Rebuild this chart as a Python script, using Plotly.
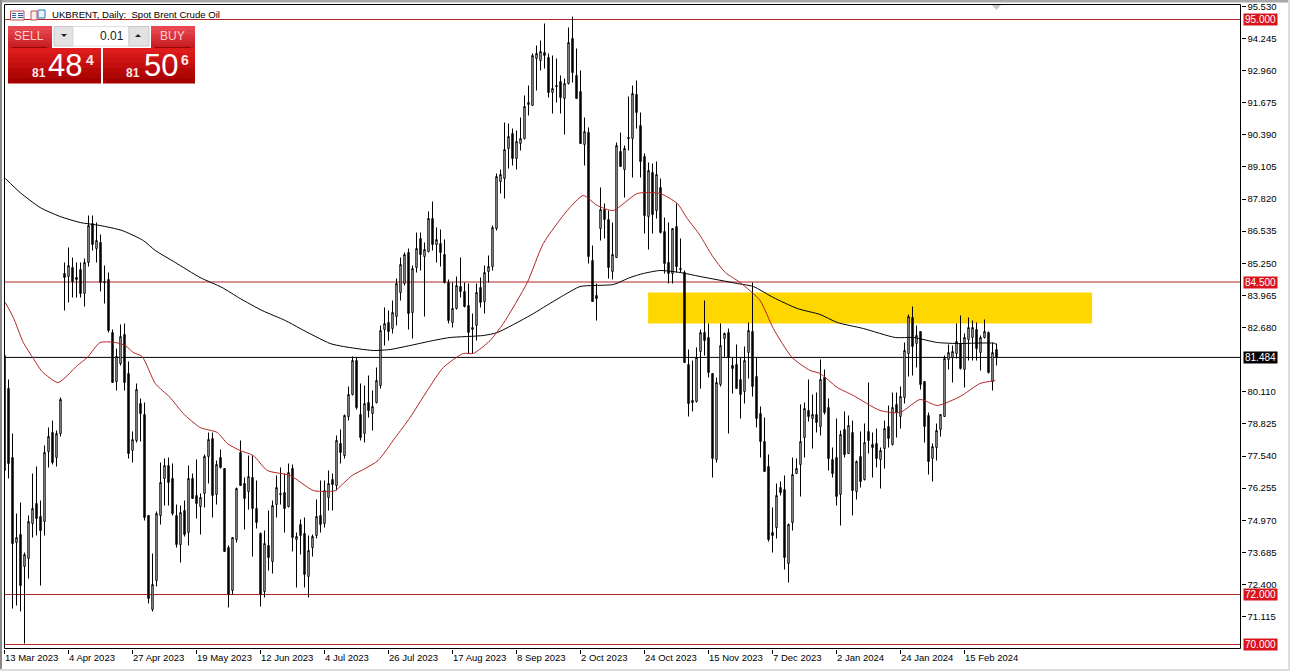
import plotly.graph_objects as go

opens = [81.56,80.24,77.48,74.08,74.40,73.12,73.44,74.84,75.64,75.12,74.92,77.72,78.48,77.48,78.44,84.84,84.72,85.08,84.68,85.00,
84.04,85.28,86.84,85.84,86.08,84.52,84.60,82.48,80.52,81.24,82.40,80.84,77.76,78.16,79.64,79.20,75.16,71.40,72.56,75.16,
76.64,77.16,76.64,75.16,74.00,75.36,74.48,76.64,75.96,75.52,76.04,77.52,78.24,76.00,77.48,77.04,73.88,72.16,74.20,77.68,
76.44,76.12,76.68,75.44,74.44,72.12,73.96,73.32,75.60,76.04,76.08,75.52,77.04,74.20,74.80,74.44,72.72,73.88,74.36,75.16,
74.84,75.88,76.60,76.36,78.04,77.56,79.12,80.00,81.36,79.20,78.44,79.68,79.24,79.68,80.36,82.60,82.88,82.64,83.12,84.08,
84.44,85.68,83.28,85.08,86.24,85.52,85.72,87.04,86.00,86.04,85.60,84.48,82.88,83.44,84.32,84.12,83.56,82.60,82.76,84.28,
83.72,84.92,85.12,86.64,88.52,88.64,89.84,90.44,89.44,90.04,90.24,91.60,91.56,93.44,93.36,93.68,93.48,92.08,92.36,92.52,
91.84,92.44,94.24,92.76,92.12,90.00,90.48,85.36,83.96,86.64,87.40,87.00,84.92,85.48,89.72,89.00,90.28,90.24,92.00,90.76,
89.52,87.12,88.88,87.36,88.28,86.52,85.28,84.84,86.72,85.04,84.88,81.20,79.76,79.72,81.72,82.48,82.28,80.84,77.40,80.40,
82.24,82.48,81.16,81.20,80.60,80.12,81.68,82.52,80.72,79.24,78.12,77.12,74.48,74.68,76.28,76.20,73.24,74.88,76.84,77.20,
78.28,79.36,79.04,79.20,78.72,80.68,79.48,77.40,77.48,76.00,78.60,77.64,78.48,76.12,77.52,76.60,78.52,78.00,78.04,77.40,
77.84,78.72,78.00,79.60,79.12,79.88,81.64,83.08,82.04,82.52,80.52,79.16,77.44,77.88,78.60,79.12,81.40,81.48,81.64,82.04,
81.00,82.20,82.28,82.60,81.68,82.28,82.48,80.52,81.80]
highs = [82.76,80.60,78.44,75.24,75.68,73.68,75.16,76.84,77.12,75.76,77.96,78.68,78.96,78.56,79.88,85.28,85.88,85.48,85.28,85.28,
85.44,87.16,87.16,86.88,86.40,85.16,84.88,82.60,81.84,82.80,82.84,81.32,78.52,80.44,79.84,79.68,75.16,73.64,75.32,77.28,
77.44,77.48,77.24,75.60,75.56,75.76,77.16,76.84,77.40,76.04,77.60,78.48,78.48,77.36,77.80,77.04,73.96,74.28,76.28,78.16,
76.68,77.56,77.56,76.56,74.48,74.56,75.36,75.76,76.76,77.08,76.84,77.24,77.20,74.48,75.00,75.08,74.36,74.40,75.80,76.56,
76.56,76.96,76.84,78.36,78.60,79.20,80.32,81.52,81.48,80.44,80.36,80.76,80.16,81.08,82.76,83.48,83.36,83.76,84.64,85.48,
85.68,85.84,85.16,86.48,86.48,86.08,87.32,87.72,86.68,86.60,86.20,84.60,84.48,84.72,85.48,84.48,84.44,83.24,84.44,84.68,
85.16,85.56,86.76,88.84,89.00,90.88,90.84,90.64,90.56,91.08,91.96,92.36,93.64,93.96,94.16,94.84,93.64,93.56,93.44,92.76,
92.64,94.68,95.12,93.84,92.96,91.08,90.68,85.96,84.44,88.28,87.64,87.36,86.88,90.08,90.48,89.96,91.92,92.36,92.56,91.28,
89.64,89.28,89.24,89.32,88.64,87.08,86.88,86.64,87.64,86.24,84.96,81.80,81.36,81.88,82.60,83.76,82.84,80.84,80.68,82.84,
82.48,82.64,81.48,82.00,81.48,81.92,82.88,84.48,81.48,79.52,79.08,77.60,75.48,76.44,76.52,76.76,74.84,77.48,77.44,79.60,
79.68,80.60,80.00,80.08,81.40,81.00,79.84,77.88,79.04,78.56,79.32,79.16,78.96,77.36,78.52,78.84,80.48,78.48,78.64,77.88,
78.96,79.56,80.08,80.08,80.32,82.08,83.20,83.52,82.76,82.52,80.52,79.28,78.04,78.84,79.20,81.56,82.00,81.96,82.84,83.16,
82.44,83.08,82.96,82.88,82.36,83.00,82.52,82.08,82.04]
lows = [75.76,76.64,71.44,71.56,71.32,70.04,72.64,74.28,74.36,72.36,74.36,77.08,77.20,77.12,78.32,83.36,83.68,83.88,83.88,83.88,
83.52,85.12,85.76,85.28,84.12,83.64,82.48,80.48,80.16,81.16,80.16,77.44,77.28,78.08,78.12,74.96,71.64,71.32,72.32,74.80,
75.56,75.56,75.16,73.88,73.28,74.32,73.96,75.84,75.04,74.40,75.48,76.44,75.08,75.60,77.04,73.72,71.48,72.00,74.08,76.36,
74.60,75.40,73.52,74.64,71.52,71.88,72.96,72.84,75.08,75.60,74.48,75.48,73.72,72.28,73.60,72.28,71.88,73.52,74.24,74.48,
74.68,75.36,75.36,76.16,77.24,77.44,78.96,79.96,79.40,78.16,78.08,79.08,78.56,79.64,80.24,81.96,82.16,82.44,82.76,83.76,
84.36,82.60,82.24,84.88,84.96,83.12,85.68,85.76,85.28,85.12,84.44,82.84,82.68,83.40,83.88,83.48,81.64,81.64,82.16,83.48,
83.24,84.48,84.96,86.56,88.04,87.84,89.04,89.16,89.00,89.76,90.20,91.16,91.56,92.16,92.96,93.04,91.88,91.24,91.68,91.24,
90.40,92.40,92.48,91.84,90.04,89.16,85.24,83.72,82.96,86.16,86.24,84.64,84.60,85.48,89.12,87.88,89.76,88.68,90.64,88.68,
86.44,85.80,86.44,87.04,86.44,84.84,84.44,84.44,84.88,84.88,81.28,79.12,79.32,79.68,80.24,81.56,80.68,76.68,77.28,80.32,
81.48,78.44,80.04,80.24,79.04,79.64,80.64,79.92,78.68,77.48,76.92,74.12,73.68,74.24,75.96,73.00,72.48,74.56,76.84,75.92,
77.48,78.92,77.84,78.48,78.36,79.20,76.96,76.68,75.56,74.76,77.48,77.64,75.16,75.80,76.28,76.56,77.64,76.68,77.08,76.24,
77.04,77.88,77.96,78.28,78.64,79.64,80.72,80.76,81.08,80.20,78.08,76.80,76.52,77.36,78.32,79.12,81.00,80.48,81.44,81.00,
80.28,81.36,81.36,81.36,80.96,82.24,80.84,80.16,81.16]
closes = [76.96,77.24,74.04,74.28,72.36,73.60,74.92,75.44,75.04,74.56,77.68,78.32,77.28,78.44,79.80,84.68,85.16,84.52,84.60,84.04,
85.28,86.76,86.00,86.16,84.48,84.48,82.56,80.48,81.52,82.32,80.48,77.64,78.20,80.20,79.24,75.08,71.84,72.40,75.24,76.48,
77.16,76.48,75.24,74.00,75.28,74.40,76.64,75.84,75.64,75.88,77.52,78.20,75.96,77.20,77.08,73.72,72.00,74.28,76.24,76.36,
75.84,76.72,75.44,74.88,72.00,74.04,73.48,75.56,76.28,76.00,75.44,76.88,74.28,74.32,74.36,72.80,73.76,74.32,75.12,74.80,
76.16,76.44,76.40,78.16,77.68,79.16,80.00,81.36,79.48,78.28,79.64,79.36,79.52,80.56,82.56,82.84,82.52,83.28,84.44,85.20,
85.60,83.24,85.04,85.84,85.60,85.80,87.04,86.00,86.20,85.68,84.48,82.96,83.44,84.36,84.12,83.52,82.48,82.68,84.08,83.68,
84.88,85.12,86.68,88.72,88.80,89.80,90.32,89.44,90.12,90.24,91.52,91.68,93.56,93.64,93.72,93.56,92.08,92.24,92.32,91.88,
92.44,94.08,92.88,91.84,90.04,90.52,85.52,83.72,83.84,87.40,87.00,85.08,85.60,89.96,89.12,89.84,90.24,92.04,91.28,89.32,
87.16,88.96,87.20,88.80,86.48,85.24,84.84,86.64,85.12,85.00,81.28,79.64,79.68,81.48,82.48,82.16,80.88,77.44,80.48,81.96,
82.44,81.48,81.04,80.24,80.00,81.36,82.56,80.32,79.04,78.12,76.92,74.20,74.36,75.96,76.08,73.48,74.80,76.80,77.04,78.12,
79.44,79.12,79.20,78.88,80.60,79.28,77.44,76.84,75.92,78.40,77.60,78.76,76.16,77.32,76.52,78.08,78.16,77.88,77.44,77.76,
78.64,78.24,79.48,79.28,79.92,81.76,83.12,81.92,82.36,80.40,78.72,77.32,77.92,78.56,79.20,81.44,81.68,81.72,82.12,81.04,
82.28,82.68,82.68,81.84,82.28,82.52,80.88,81.68,81.48]

ma200_bar = [0.2,3.9,8.9,13.9,18.9,23.9,29.4,34.7,37.7,42.7,48.9,54.4,58.9,64.4,70.2,73.9,81.4,84.7,92.2,96.4,101.4,107.2,111.4,
119.7,123.2,131.4,134.7,139.7,143.9,147.2,152.2,156.4,159.7,163.9,168.9,173.9,183.2,187.2,192.2,198.2,203.9,208.2,214.7,222.7,227.2,233.2,238.2,247.7,248]
ma200_val = [88.64,88.08,87.48,87.12,86.88,86.76,86.56,86.16,85.76,85.28,84.68,84.28,83.84,83.36,82.96,82.64,82.04,81.92,81.76,81.80,81.96,82.16,82.28,
82.36,82.48,83.16,83.48,83.96,84.32,84.36,84.40,84.68,84.84,84.96,84.88,84.72,84.44,84.32,83.88,83.44,83.20,82.88,82.64,82.28,82.28,82.08,82.04,82.04,81.96]
ma50_bar = [0.2,2.2,4.7,7.2,9.4,13.4,18.2,20.7,23.9,27.7,30.2,32.2,34.4,37.7,41.4,44.7,48.9,53.2,55.7,58.9,62.2,65.7,71.4,77.2,81.4,82.7,86.9,90.2,93.4,97.7,
101.4,105.7,109.7,114.7,117.2,121.4,124.7,130.7,134.7,140.7,144.7,148.2,152.2,158.2,163.9,168.2,170.7,173.9,176.9,180.2,183.9,188.9,192.2,196.9,201.4,203.9,208.2,212.2,218.9,223.9,228.9,233.2,238.9,243.9,247.7]
ma50_val = [83.68,83.08,82.08,81.44,80.92,80.48,81.16,81.48,82.08,82.08,81.96,81.68,81.52,80.44,79.88,79.24,78.68,78.48,78.04,77.76,77.56,76.96,76.76,76.16,76.12,76.16,76.76,77.04,77.36,78.28,
79.08,80.16,81.08,81.64,81.64,82.16,82.84,84.48,86.04,87.36,87.96,87.56,87.36,88.04,88.04,87.64,87.04,86.36,85.56,84.88,84.48,83.76,82.64,81.48,80.96,80.84,80.28,79.96,79.36,79.28,79.80,79.56,79.92,80.44,80.56]

bars = list(range(len(opens)))
tick_bars = [0,16,32,48,64,80,96,112,128,144,160,176,192,208,224,240]
tick_dates = ["13 Mar 2023","4 Apr 2023","27 Apr 2023","19 May 2023","12 Jun 2023","4 Jul 2023","26 Jul 2023","17 Aug 2023",
              "8 Sep 2023","2 Oct 2023","24 Oct 2023","15 Nov 2023","7 Dec 2023","2 Jan 2024","24 Jan 2024","15 Feb 2024"]
price_ticks = [95.53,94.245,92.96,91.675,90.39,89.105,87.82,86.535,85.25,83.965,82.68,80.11,78.825,77.54,76.255,74.97,73.685,72.4,71.115]
red_levels = [95.0,84.5,72.0,70.0]
last_price = 81.484
zone_bars = [160.9,271.9]
zone_prices = [82.84,84.08]

FW,FH = 1290,671
ML,MR,MT,MB = 4,49,4,22
GW,GH = FW-ML-MR, FH-MT-MB
def xp(x): return (x-ML)/GW
def yp(y): return (ML+GH-y)/GH

RED="#B02525"
FONT="Liberation Sans"
shapes=[]
ann=[]
def rect(x0,y0,x1,y1,fill,line=None,layer="above"):
    shapes.append(dict(type="rect",xref="paper",yref="paper",x0=xp(x0),x1=xp(x1),y0=yp(y0),y1=yp(y1),
        fillcolor=fill,line=dict(color=line or fill,width=1 if line else 0),layer=layer))
def seg(x0,y0,x1,y1,color,width=1):
    shapes.append(dict(type="line",xref="paper",yref="paper",x0=xp(x0),x1=xp(x1),y0=yp(y0),y1=yp(y1),line=dict(color=color,width=width)))
def text(s,x,y,size,color="#000",anchor="left",bold=False):
    ann.append(dict(text=f"<b>{s}</b>" if bold else s,xref="paper",yref="paper",x=xp(x),y=yp(y),xanchor=anchor,yanchor="middle",
        showarrow=False,font=dict(family=FONT,size=size,color=color),borderpad=0))
def grad(x0,y0,x1,y1,top,bottom,n=7):
    for i in range(n):
        t=i/(n-1)
        c="rgb(%d,%d,%d)"%tuple(round(a+(b-a)*t) for a,b in zip(top,bottom))
        rect(x0,y0+(y1-y0)*i/n,x1,y0+(y1-y0)*(i+1)/n+0.5,c)

# zone and levels
shapes.append(dict(type="rect",xref="x",yref="y",x0=zone_bars[0],x1=zone_bars[1],y0=zone_prices[0],y1=zone_prices[1],
                   fillcolor="#FFD700",line=dict(width=0),layer="below"))
for lv in red_levels:
    shapes.append(dict(type="line",xref="x",yref="y",x0=0,x1=309,y0=lv,y1=lv,line=dict(color=RED,width=1),layer="below"))
    ann.append(dict(text=f"{lv:.3f}",xref="paper",yref="y",x=1,y=lv,xanchor="left",yanchor="middle",xshift=2,showarrow=False,
        font=dict(family=FONT,size=10,color="#fff"),bgcolor="#D8141E",width=33,height=11,borderpad=0,align="center"))
shapes.append(dict(type="line",xref="x",yref="y",x0=0,x1=309,y0=last_price,y1=last_price,line=dict(color="#000",width=1),layer="below"))
ann.append(dict(text=f"{last_price:.3f}",xref="paper",yref="y",x=1,y=last_price,xanchor="left",yanchor="middle",xshift=2,showarrow=False,
    font=dict(family=FONT,size=10,color="#fff"),bgcolor="#000",width=33,height=11,borderpad=0,align="center"))

# frame
shapes.append(dict(type="rect",xref="paper",yref="paper",x0=xp(4.5),x1=xp(1240.5),y0=yp(4.5),y1=yp(648.5),line=dict(color="#000",width=1),fillcolor="rgba(0,0,0,0)"))

# window edges
rect(0,0,1290,2.5,"#A8A8A8")
rect(0,0,2,671,"#8A8A8A")
rect(1288,0,1290,671,"#DDDDDD")
rect(0,669,1290,671,"#DDDDDD")

# trade panel
grad(8,26,52,48,(232,70,80),(200,30,35))
grad(151,26,195,48,(232,70,80),(200,30,35))
grad(8,48,101,83,(222,28,28),(165,0,0))
grad(103,48,195,83,(222,28,28),(165,0,0))
seg(12,47.5,47,47.5,"#8E0A0A"); seg(155,47.5,191,47.5,"#8E0A0A")
rect(54,26.5,73,46,"#E2E2E2","#C8C8C8")
rect(73,26.5,129,46,"#FFFFFF","#E0E0E0")
rect(129,26.5,149,46,"#E2E2E2","#C8C8C8")
shapes.append(dict(type="path",xref="paper",yref="paper",fillcolor="#222",line=dict(width=0),
    path=f"M {xp(61)} {yp(34)} L {xp(67)} {yp(34)} L {xp(64)} {yp(37)} Z"))
shapes.append(dict(type="path",xref="paper",yref="paper",fillcolor="#222",line=dict(width=0),
    path=f"M {xp(135)} {yp(37)} L {xp(141)} {yp(37)} L {xp(138)} {yp(34)} Z"))
text("SELL",29,36.5,12,"#FFD0D0","center")
text("BUY",172,36.5,12,"#FFD0D0","center")
text("0.01",125,36,12,"#222","right")
text("81",31,73,12,"#FFE8E8","left",True)
text("48",47,66,31,"#FFFFFF")
text("4",85,60,14,"#FFE8E8","left",True)
text("81",125,73,12,"#FFE8E8","left",True)
text("50",143,66,31,"#FFFFFF")
text("6",180,60,14,"#FFE8E8","left",True)

# title and icons
text("UKBRENT, Daily:&#160;&#160;Spot Brent Crude Oil",51,15,9.6,"#000")
rect(10.5,11,24,20,"#F4F8FC","#C05050")
for yy in (13.5,15.5,17.5):
    seg(12,yy,16,yy,"#3060A0"); seg(18,yy,23,yy,"#3060A0")
rect(31,11,37,20,"#FBEDED","#C05050")
rect(38,10,45,18,"#EAF2FA","#3070B0")

# small marker at top
shapes.append(dict(type="path",xref="paper",yref="paper",fillcolor="#C8C8C8",line=dict(width=0),
    path=f"M {xp(992)} {yp(5)} L {xp(1001)} {yp(5)} L {xp(996.5)} {yp(10)} Z"))

fig=go.Figure()
fig.add_trace(go.Candlestick(x=bars,open=opens,high=highs,low=lows,close=closes,whiskerwidth=0,
    increasing=dict(line=dict(color="#000",width=1),fillcolor="#FFFFFF"),
    decreasing=dict(line=dict(color="#000",width=1),fillcolor="#000000"),showlegend=False,hoverinfo="skip"))
fig.add_trace(go.Scatter(x=ma200_bar,y=ma200_val,mode="lines",line=dict(color="#000",width=1,shape="spline",smoothing=0.6),showlegend=False,hoverinfo="skip"))
fig.add_trace(go.Scatter(x=ma50_bar,y=ma50_val,mode="lines",line=dict(color="#B02525",width=1,shape="spline",smoothing=0.6),showlegend=False,hoverinfo="skip"))

fig.update_layout(width=FW,height=FH,autosize=False,margin=dict(l=ML,r=MR,t=MT,b=MB,pad=0),
    paper_bgcolor="#FFFFFF",plot_bgcolor="#FFFFFF",boxgap=0.5,showlegend=False,shapes=shapes,annotations=ann,
    xaxis=dict(domain=[0.5/GW,1-0.5/GW],range=[0,309],tickmode="array",tickvals=tick_bars,ticktext=tick_dates,tickangle=0,automargin=False,
        ticks="outside",ticklen=4,tickcolor="#000",tickwidth=1,ticklabelposition="outside right",
        tickfont=dict(family=FONT,size=9.5,color="#000"),showgrid=False,zeroline=False,showline=False,rangeslider=dict(visible=False)),
    yaxis=dict(domain=[0.5/GH,1-0.5/GH],range=[69.84,95.6],side="right",tickmode="array",tickvals=price_ticks,ticktext=[f"{p:.3f}" for p in price_ticks],automargin=False,
        ticks="outside",ticklen=4,tickcolor="#000",tickwidth=1,tickfont=dict(family=FONT,size=9.5,color="#000"),showgrid=False,zeroline=False,showline=False))
fig.write_html("out.html",config=dict(displayModeBar=False),post_script="document.body.style.margin='0';document.body.style.overflow='hidden';")
